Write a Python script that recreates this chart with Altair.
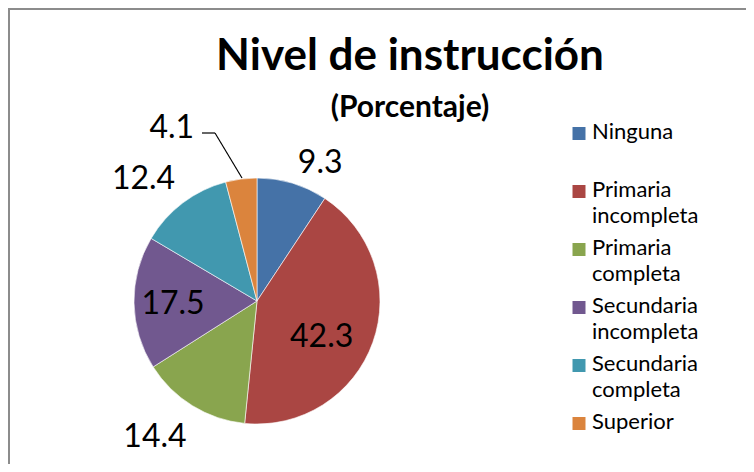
import altair as alt
import pandas as pd

categories = ["Ninguna", "Primaria incompleta", "Primaria completa",
              "Secundaria incompleta", "Secundaria completa", "Superior"]
values = [9.3, 42.3, 14.4, 17.5, 12.4, 4.1]
colors = ["#4572a7", "#aa4643", "#89a54e", "#71588f", "#4198af", "#db843d"]

df = pd.DataFrame({"cat": categories, "pct": values, "order": list(range(len(categories)))})

CX, CY, R = 249, 293, 123
FONT = "Lato"

# label placement style: (radius, dx, dy)
label_style = {
    "Ninguna": (150, 20, 6),
    "Primaria incompleta": (75, -6, 11),
    "Primaria completa": (160, -18, 0),
    "Secundaria incompleta": (84, 0, 2),
    "Secundaria completa": (160, -17, 6),
    "Superior": (150, -66, -24),
}

base = alt.Chart(df).encode(
    theta=alt.Theta("pct:Q", stack=True),
    order=alt.Order("order:Q"),
)

pie = base.mark_arc(outerRadius=R, stroke="white", strokeWidth=0.6).encode(
    color=alt.Color(
        "cat:N",
        scale=alt.Scale(domain=categories, range=colors),
        sort=categories,
        legend=alt.Legend(
            title=None, orient="none", legendX=560, legendY=103,
            symbolType="M-1,0.77H1V2.77H-1Z", symbolSize=169, symbolStrokeWidth=0,
            labelFont=FONT, labelFontSize=22, labelColor="#000000",
            labelOffset=2, labelLimit=300, rowPadding=0,
            labelExpr="datum.label == 'Superior' ? datum.label : "
                      "(indexof(datum.label, ' ') > 0 ? split(datum.label, ' ') : [datum.label, ' '])",
            labelBaseline="top",
        ),
    ),
    x=alt.value(CX), y=alt.value(CY),
)

layers = [pie]
for cat, (r, dx, dy) in label_style.items():
    t = base.transform_calculate(
        lab="datum.cat == '%s' ? format(datum.pct, '.1f') : ''" % cat
    ).mark_text(radius=r, dx=dx, dy=dy, font=FONT, fontSize=32, color="#000000",
                align="center", baseline="middle").encode(
        text="lab:N", x=alt.value(CX), y=alt.value(CY)
    )
    layers.append(t)

leader1 = alt.Chart(df.head(1)).mark_rule(color="#000000", strokeWidth=1.2).encode(
    x=alt.value(194), x2=alt.value(207), y=alt.value(125), y2=alt.value(125))
leader2 = alt.Chart(df.head(1)).mark_rule(color="#000000", strokeWidth=1.2).encode(
    x=alt.value(207), x2=alt.value(234), y=alt.value(125), y2=alt.value(170))
border_l = alt.Chart(df.head(1)).mark_rule(color="#8c8c8c", strokeWidth=2).encode(
    x=alt.value(1), x2=alt.value(1), y=alt.value(0), y2=alt.value(456))
border_t = alt.Chart(df.head(1)).mark_rule(color="#8c8c8c", strokeWidth=2).encode(
    x=alt.value(0), x2=alt.value(738), y=alt.value(1), y2=alt.value(1))

layers += [leader1, leader2, border_l, border_t]

chart = alt.layer(*layers).properties(
    width=738, height=456,
    autosize=alt.AutoSizeParams(type="none"),
    padding=0,
    background="white",
    title=alt.TitleParams(
        "Nivel de instrucción", subtitle="(Porcentaje)",
        anchor="middle", frame="group", orient="top", offset=-116, dx=33,
        font=FONT, fontSize=44, fontWeight="bold", color="#000000",
        subtitleFont=FONT, subtitleFontSize=30, subtitleFontWeight="bold",
        subtitleColor="#000000", subtitlePadding=14,
    ),
).configure_view(stroke=None).configure(style={"guide-label": {"lineHeight": 26}})

chart.save("out.html", embed_options={"renderer": "svg", "actions": False})
